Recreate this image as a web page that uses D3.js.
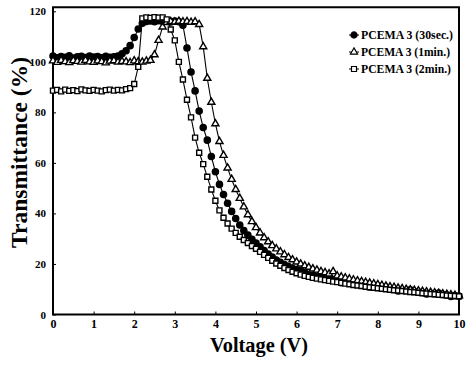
<!DOCTYPE html>
<html><head><meta charset="utf-8">
<script src="https://cdn.jsdelivr.net/npm/d3@7"></script>
<style>body{margin:0;background:#fff}svg{display:block}</style>
</head><body>
<svg id="c" width="467" height="376"></svg>
<script>
const voltage=[0,0.1,0.2,0.3,0.4,0.5,0.6,0.7,0.8,0.9,1,1.1,1.2,1.3,1.4,1.5,1.6,1.7,1.8,1.9,2,2.1,2.2,2.3,2.4,2.5,2.6,2.7,2.8,2.9,3,3.1,3.2,3.3,3.4,3.5,3.6,3.7,3.8,3.9,4,4.1,4.2,4.3,4.4,4.5,4.6,4.7,4.8,4.9,5,5.1,5.2,5.3,5.4,5.5,5.6,5.7,5.8,5.9,6,6.1,6.2,6.3,6.4,6.5,6.6,6.7,6.8,6.9,7,7.1,7.2,7.3,7.4,7.5,7.6,7.7,7.8,7.9,8,8.1,8.2,8.3,8.4,8.5,8.6,8.7,8.8,8.9,9,9.1,9.2,9.3,9.4,9.5,9.6,9.7,9.8,9.9,10];
const pcema30s=[102.3,101.6,102.1,101.8,102.4,101.5,102.0,102.2,101.7,102.3,101.9,102.1,101.6,102.2,101.8,102.0,102.3,
103.2,104.4,106.4,109.6,113.0,115.3,116.0,116.2,115.9,116.3,116.0,116.2,115.8,116.1,115.9,114.5,105.5,96.0,88.5,80.5,74.0,69.0,62.5,
56.5,51.5,47.5,44.0,40.8,38.0,35.4,33.2,31.4,29.8,28.3,26.8,25.3,23.9,22.7,21.6,20.7,19.8,19.0,18.3,
17.7,17.4,16.6,15.7,15.6,15.1,14.8,14.8,14.0,13.7,13.4,12.6,12.8,12.5,12.7,12.0,11.8,11.5,10.9,11.0,
10.8,10.6,10.9,10.2,10.0,9.3,9.6,9.5,9.8,9.1,8.9,8.7,8.1,8.4,8.2,8.5,7.9,7.7,7.1,7.4,7.2];
const pcema1m=[100.4,99.8,100.6,100.1,99.7,100.5,100.2,99.9,100.6,100.0,99.8,100.4,100.1,99.6,100.3,100.5,99.9,100.2,100.0,99.7,100.4,100.1,99.9,100.3,100.6,
102.8,108.5,113.8,115.6,116.0,115.8,116.1,115.9,116.0,115.7,115.9,114.8,106.0,93.5,84.0,75.5,68.5,63.0,58.0,53.5,49.5,46.0,42.6,39.5,36.8,
34.4,32.3,30.4,28.8,27.3,26.0,24.8,23.7,22.6,21.7,20.8,20.0,19.3,18.7,18.1,17.6,17.0,16.6,16.1,17.0,15.3,14.9,14.5,14.1,13.7,
13.4,13.1,12.8,12.5,12.2,11.9,11.6,11.3,11.0,10.8,10.5,10.3,10.0,9.8,9.6,9.4,9.2,9.0,8.8,8.6,8.4,8.2,8.0,7.8,7.6,7.4];
const pcema2m=[88.6,88.9,88.3,89.0,88.5,88.8,88.4,89.1,88.7,88.5,88.9,88.6,88.3,88.8,89.0,88.6,88.9,88.7,89.2,89.6,
91.2,98.0,117.2,117.6,117.4,117.7,117.5,117.6,116.8,112.8,108.5,100.0,93.0,85.0,78.0,70.0,64.0,59.5,54.5,49.5,
45.0,41.2,38.3,36.0,34.0,32.3,30.8,29.5,28.3,27.1,26.0,24.8,23.6,22.4,21.3,20.2,19.3,18.4,17.6,16.9,
16.3,15.8,15.3,14.9,14.5,14.2,13.9,13.6,13.3,13.0,12.8,12.5,12.2,12.0,11.7,11.5,11.3,11.0,10.8,10.6,
10.4,10.2,10.0,9.8,9.6,9.5,9.3,9.1,8.9,8.8,8.6,8.4,8.3,8.1,8.0,7.8,7.7,7.5,7.4,7.3,7.2];
const seriesNames=["PCEMA 3 (30sec.)","PCEMA 3 (1min.)","PCEMA 3 (2min.)"];
const xTicks=[0,1,2,3,4,5,6,7,8,9,10];
const yTicks=[0,20,40,60,80,100,120];

const svg=d3.select("#c");
const x=d3.scaleLinear().domain([0,10]).range([53,459]);
const y=d3.scaleLinear().domain([0,120]).range([314.5,11.3]);
const FONT="'Liberation Serif','Times New Roman',serif";

const series=[
 {name:seriesNames[0],vals:pcema30s,sym:d3.symbolCircle,size:30,fill:"#000"},
 {name:seriesNames[1],vals:pcema1m,sym:d3.symbolTriangle,size:22,fill:"#fff"},
 {name:seriesNames[2],vals:pcema2m,sym:d3.symbolSquare,size:25,fill:"#fff"}
];

// frame
svg.append("rect").attr("x",x(0)).attr("y",y(121.6)).attr("width",x(10)-x(0)).attr("height",y(0)-y(121.6))
 .attr("fill","none").attr("stroke","#000").attr("stroke-width",2);

// axes
const gx=svg.append("g").attr("transform",`translate(0,${y(0)})`)
 .call(d3.axisBottom(x).tickValues(xTicks).tickSizeInner(-3).tickSizeOuter(0).tickPadding(5).tickFormat(d3.format("d")));
gx.select(".domain").remove();
gx.selectAll("text").attr("font-family",FONT).attr("font-weight","bold").attr("font-size","12px").attr("fill","#000");
const gy=svg.append("g").attr("transform",`translate(${x(0)},0)`)
 .call(d3.axisLeft(y).tickValues(yTicks).tickSizeInner(-3).tickSizeOuter(0).tickPadding(7).tickFormat(d3.format("d")));
gy.select(".domain").remove();
gy.selectAll("text").attr("font-family",FONT).attr("font-weight","bold").attr("font-size","11px").attr("fill","#000");

// lines & markers
const line=d3.line().x((d,i)=>x(voltage[i])).y(d=>y(d));
series.forEach(s=>{
 svg.append("path").attr("d",line(s.vals)).attr("fill","none").attr("stroke","#000").attr("stroke-width",1.1);
 svg.append("g").selectAll("path").data(s.vals).join("path")
  .attr("transform",(d,i)=>`translate(${x(voltage[i])},${y(d)})`)
  .attr("d",d3.symbol().type(s.sym).size(s.size))
  .attr("fill",s.fill).attr("stroke","#000").attr("stroke-width",1.4);
});

// titles
svg.append("text").attr("x",259).attr("y",352).attr("text-anchor","middle")
 .attr("font-family",FONT).attr("font-weight","bold").attr("font-size","22px")
 .attr("textLength",98).attr("lengthAdjust","spacingAndGlyphs").text("Voltage (V)");
svg.append("text").attr("transform","translate(27,152.5) rotate(-90)").attr("text-anchor","middle")
 .attr("font-family",FONT).attr("font-weight","bold").attr("font-size","23px")
 .attr("textLength",191).attr("lengthAdjust","spacingAndGlyphs").text("Transmittance (%)");

// legend
const rows=[35,52,69], lens=[92,89,90];
series.forEach((s,i)=>{
 const g=svg.append("g").attr("transform",`translate(0,${rows[i]})`);
 g.append("line").attr("x1",349).attr("x2",359).attr("y1",0).attr("y2",0).attr("stroke","#000").attr("stroke-width",1);
 g.append("path").attr("transform","translate(354,0)").attr("d",d3.symbol().type(s.sym).size(s.size))
  .attr("fill",s.fill).attr("stroke","#000").attr("stroke-width",1.2);
 g.append("text").attr("x",361).attr("y",4).attr("font-family",FONT).attr("font-weight","bold")
  .attr("font-size","11.5px").attr("textLength",lens[i]).attr("lengthAdjust","spacingAndGlyphs").text(s.name);
});
</script>
</body></html>
